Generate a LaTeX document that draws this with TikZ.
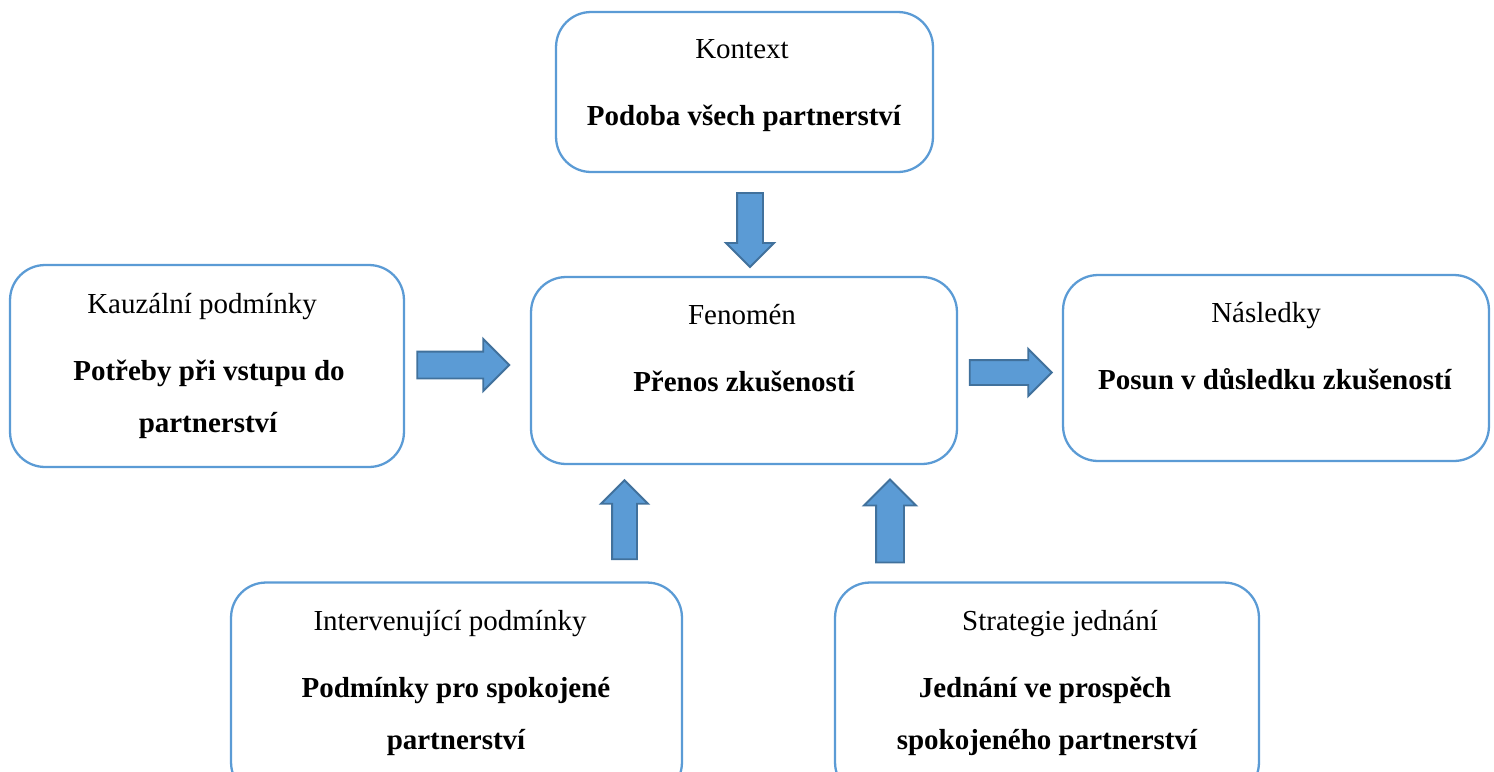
\documentclass[tikz,border=0pt]{standalone}
\usepackage{fontspec}
\setmainfont{Liberation Serif}
\usetikzlibrary{shapes.arrows}

\definecolor{boxblue}{HTML}{5B9BD5}
\definecolor{arrblue}{HTML}{5B9BD5}
\definecolor{arredge}{HTML}{41719C}

\begin{document}
\begin{tikzpicture}[x=0.02cm,y=-0.02cm]
\tikzstyle{box}=[rectangle,draw=boxblue,line width=1.3pt,rounded corners=0.7cm,fill=white]
\tikzstyle{hd}=[anchor=base,font=\fontsize{16.5}{20}\selectfont,inner sep=0pt]
\tikzstyle{bd}=[anchor=base,font=\fontsize{16.5}{20}\selectfont\bfseries,inner sep=0pt]
\tikzstyle{barr}=[single arrow,fill=arrblue,draw=arredge,line width=1.1pt,inner xsep=0pt,outer sep=0pt,single arrow head indent=0pt]

\useasboundingbox (0,0) rectangle (1494,771);

% Boxes
\node[box,minimum width=7.54cm,minimum height=3.2cm] (ctx) at (744.5,92) {};
\node[box,minimum width=7.88cm,minimum height=4.04cm] (cause) at (207,366) {};
\node[box,minimum width=8.52cm,minimum height=3.74cm] (phen) at (744,370.5) {};
\node[box,minimum width=8.52cm,minimum height=3.72cm] (cons) at (1276,368) {};
\node[box,minimum width=9.02cm,minimum height=4.3cm] (interv) at (456.5,690) {};
\node[box,minimum width=8.48cm,minimum height=4.3cm] (strat) at (1047,690) {};

% Texts
\node[hd] (ctxH) at (742,58) {Kontext};
\node[bd] (ctxB) at (744,125) {Podoba všech partnerství};

\node[hd] (causeH) at (202,313) {Kauzální podmínky};
\node[bd] (causeB1) at (209,380) {Potřeby při vstupu do};
\node[bd] (causeB2) at (208,432) {partnerství};

\node[hd] (phenH) at (742,324) {Fenomén};
\node[bd] (phenB) at (744,391) {Přenos zkušeností};

\node[hd] (consH) at (1266,322) {Následky};
\node[bd] (consB) at (1275,389) {Posun v důsledku zkušeností};

\node[hd] (intervH) at (450,630) {Intervenující podmínky};
\node[bd] (intervB1) at (456,697) {Podmínky pro spokojené};
\node[bd] (intervB2) at (456,749) {partnerství};

\node[hd] (stratH) at (1060,630) {Strategie jednání};
\node[bd] (stratB1) at (1045,697) {Jednání ve prospěch};
\node[bd] (stratB2) at (1047,749) {spokojeného partnerství};

% Block arrows
\node[barr,rotate=270,minimum height=1.48cm,inner ysep=0.24cm,single arrow head extend=0.22cm] (aDown) at (750,223.5) {};
\node[barr,minimum height=1.84cm,inner ysep=0.25cm,single arrow head extend=0.25cm] (aCause) at (456.5,365) {};
\node[barr,minimum height=1.64cm,inner ysep=0.23cm,single arrow head extend=0.22cm] (aCons) at (1004.5,372.5) {};
\node[barr,rotate=90,minimum height=1.58cm,inner ysep=0.23cm,single arrow head extend=0.22cm] (aInterv) at (624.5,526) {};
\node[barr,rotate=90,minimum height=1.66cm,inner ysep=0.26cm,single arrow head extend=0.24cm] (aStrat) at (890,528) {};
\end{tikzpicture}
\end{document}
